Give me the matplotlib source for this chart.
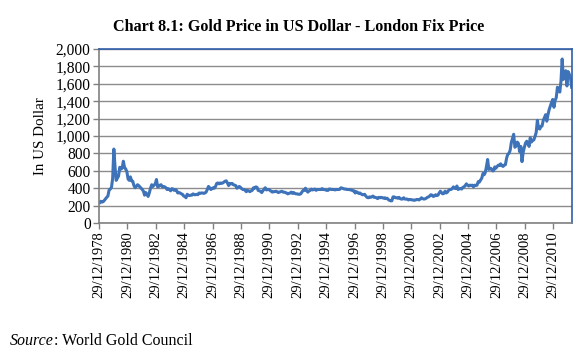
import matplotlib
matplotlib.use("Agg")
import matplotlib.pyplot as plt
import pandas as pd

# monthly London fix price (USD/oz), Jan 1979 - Apr 2012
price = [
    233, 250, 240, 245, 260, 278, 295, 310, 380, 390, 410, 510,          # 1979
    850, 640, 490, 515, 540, 640, 620, 630, 710, 640, 620, 590,          # 1980
    505, 490, 530, 485, 480, 430, 405, 420, 440, 430, 415, 400,          # 1981
    385, 365, 320, 350, 330, 305, 345, 400, 440, 420, 435, 450,          # 1982
    500, 415, 420, 435, 440, 415, 420, 415, 405, 385, 395, 385,          # 1983
    370, 395, 390, 375, 385, 375, 345, 350, 345, 335, 330, 310,          # 1984
    305, 290, 330, 320, 315, 320, 320, 335, 325, 325, 330, 325,          # 1985
    345, 340, 345, 345, 340, 345, 355, 385, 420, 405, 385, 395,          # 1986
    405, 400, 420, 455, 460, 450, 460, 455, 460, 470, 480, 485,          # 1987
    460, 430, 455, 450, 455, 440, 435, 430, 400, 410, 420, 410,          # 1988
    395, 385, 385, 375, 360, 375, 370, 360, 370, 375, 405, 400,          # 1989
    415, 410, 375, 370, 365, 350, 370, 390, 405, 380, 385, 385,          # 1990
    375, 365, 355, 360, 360, 365, 360, 350, 355, 360, 365, 355,          # 1991
    355, 350, 345, 335, 340, 345, 355, 340, 350, 340, 335, 335,          # 1992
    330, 330, 335, 355, 375, 375, 400, 370, 355, 370, 375, 390,          # 1993
    380, 385, 390, 375, 385, 385, 385, 385, 395, 385, 385, 380,          # 1994
    375, 375, 390, 390, 385, 385, 385, 380, 385, 385, 385, 387,          # 1995
    405, 400, 395, 390, 390, 385, 385, 385, 380, 380, 370, 370,          # 1996
    345, 360, 350, 340, 345, 335, 325, 325, 330, 310, 295, 290,          # 1997
    300, 295, 300, 310, 295, 295, 290, 280, 295, 290, 295, 290,          # 1998
    285, 290, 280, 285, 270, 260, 255, 255, 300, 300, 290, 290,          # 1999
    285, 295, 280, 275, 275, 290, 275, 275, 275, 265, 270, 270,          # 2000
    265, 265, 260, 265, 270, 270, 265, 275, 290, 280, 275, 277,          # 2001
    285, 295, 300, 310, 325, 320, 305, 310, 325, 315, 320, 345,          # 2002
    365, 350, 335, 340, 365, 345, 355, 375, 385, 385, 395, 415,          # 2003
    400, 395, 425, 385, 395, 395, 390, 410, 415, 430, 450, 435,          # 2004
    425, 435, 430, 435, 415, 435, 430, 435, 475, 470, 495, 515,          # 2005
    570, 555, 580, 650, 730, 615, 630, 625, 600, 600, 645, 630,          # 2006
    650, 665, 660, 680, 660, 650, 665, 670, 745, 790, 800, 835,          # 2007
    925, 975, 1020, 870, 885, 930, 915, 820, 880, 705, 815, 870,         # 2008
    920, 940, 915, 880, 980, 930, 950, 955, 995, 1040, 1180, 1090,       # 2009
    1080, 1110, 1115, 1180, 1210, 1245, 1170, 1245, 1305, 1345, 1385, 1420,  # 2010
    1330, 1410, 1440, 1560, 1535, 1505, 1630, 1885, 1650, 1720, 1750, 1575,  # 2011
    1740, 1710, 1665, 1560,                                              # 2012
]
dates = pd.date_range("1979-01-01", periods=len(price), freq="MS") + pd.Timedelta(days=14)

tick_years = list(range(1978, 2011, 2))
tick_dates = [pd.Timestamp(f"{y}-12-29") for y in tick_years]
tick_labels = [d.strftime("%d/%m/%Y") for d in tick_dates]
y_ticks = list(range(0, 2001, 200))

plt.rcParams["font.family"] = ["Liberation Serif", "DejaVu Serif"]

fig = plt.figure(figsize=(5.79, 3.56), dpi=100)
ax = fig.add_axes([0.171, 0.3736, 0.817, 0.4888])

ax.plot(dates, price, color="#3F73B9", linewidth=2.2, solid_joinstyle="round")

ax.set_ylim(0, 2000)
ax.set_xlim(pd.Timestamp("1978-12-29"), pd.Timestamp("2012-04-25"))
ax.set_yticks(y_ticks)
ax.set_yticklabels([f"{v:,}" for v in y_ticks], fontsize=11.2)
ax.set_xticks(tick_dates)
ax.set_xticklabels(tick_labels, rotation=90, fontsize=10.5)

ax.grid(axis="y", color="#8c8c8c", linewidth=1.0)
ax.set_axisbelow(True)
for side in ["left", "bottom"]:
    ax.spines[side].set_color("#808080")
    ax.spines[side].set_linewidth(1.2)
for side in ["top", "right"]:
    ax.spines[side].set_color("#2F5DAA")
    ax.spines[side].set_linewidth(1.2)
ax.tick_params(axis="both", colors="#808080", length=4, width=1.0, labelcolor="black", pad=2)

ax.set_ylabel("In US Dollar", fontsize=10.8, labelpad=6)
fig.text(0.515, 0.925, "Chart 8.1: Gold Price in US Dollar - London Fix Price",
         ha="center", va="center", fontsize=11.6, fontweight="bold")

src = fig.text(0.017, 0.03, "Source", fontsize=11.5, style="italic", ha="left", va="baseline")
ax.annotate(": World Gold Council", xy=(1, 0), xycoords=src, xytext=(0, 0),
            textcoords="offset points", fontsize=11.5, ha="left", va="bottom",
            annotation_clip=False)

fig.savefig("out.png", dpi=100)
